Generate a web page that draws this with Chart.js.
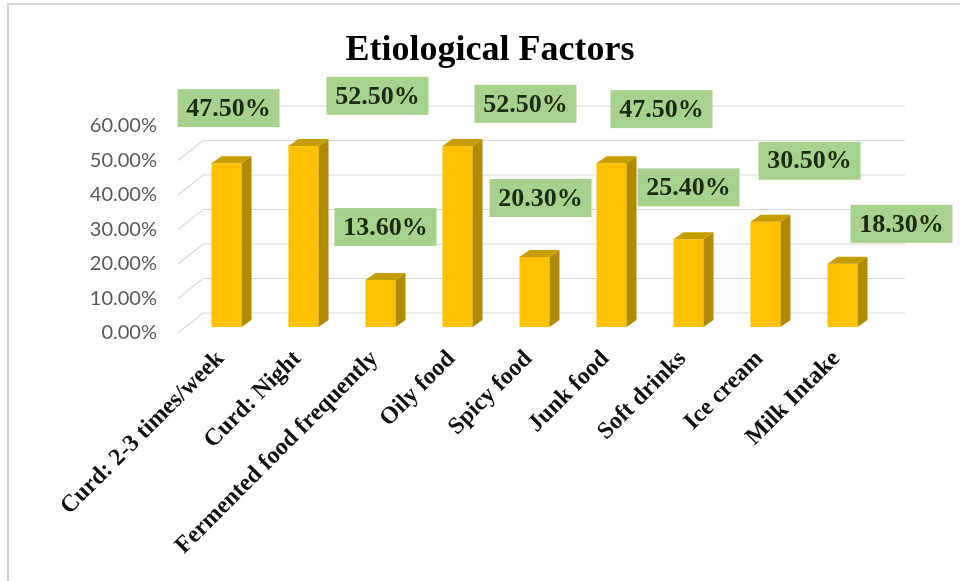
<!DOCTYPE html>
<html>
<head>
<meta charset="utf-8">
<script src="https://cdn.jsdelivr.net/npm/chart.js@4.4.1/dist/chart.umd.min.js"></script>
<style>
  html, body { margin: 0; padding: 0; background: #fff; overflow: hidden; }
  #frame {
    position: absolute; left: 7px; top: 3px; width: 1000px; height: 700px;
    border: 2px solid #d6d6d6; box-sizing: border-box;
  }
  #factors { position: absolute; left: 0; top: 0; }
</style>
</head>
<body>
<div id="frame"></div>
<canvas id="factors" width="960" height="581"></canvas>
<script>
// etiological factors, share of respondents (%)
const factors = [
  "Curd: 2-3 times/week",
  "Curd: Night",
  "Fermented food frequently",
  "Oily food",
  "Spicy food",
  "Junk food",
  "Soft drinks",
  "Ice cream",
  "Milk Intake",
];
const percents = [47.5, 52.5, 13.6, 52.5, 20.3, 47.5, 25.4, 30.5, 18.3];
const yTicks = [0, 10, 20, 30, 40, 50, 60];

// where each green value box sits, relative to the top centre of its bar
const labelShift = [
  [2, -55], [74, -50], [5, -53], [68, -42], [6, -59],
  [50, -54], [0, -52], [44, -61], [59, -40],
];

const SERIF = "'Liberation Serif', 'Times New Roman', serif";
const DEPTH_X = 10, DEPTH_Y = 7; // bar extrusion
const WALL_X = 25, WALL_Y = 20;  // floor depth for the side gridlines

const bars3d = {
  id: "bars3d",
  beforeDatasetsDraw(chart) {
    const { ctx } = chart;
    const y = chart.scales.y;
    const left = chart.chartArea.left - 10;
    ctx.save();
    ctx.strokeStyle = "#d9d9d9";
    ctx.lineWidth = 1.2;
    yTicks.forEach(v => {
      const front = y.getPixelForValue(v) + 6;
      const back = front - WALL_Y;
      ctx.beginPath();
      ctx.moveTo(left, front);
      ctx.lineTo(left + WALL_X, back);
      ctx.lineTo(905, back);
      ctx.stroke();
    });
    ctx.restore();
  },
  afterDatasetsDraw(chart) {
    const { ctx } = chart;
    const meta = chart.getDatasetMeta(0);
    ctx.save();
    meta.data.forEach((bar, i) => {
      const l = bar.x - bar.width / 2, r = bar.x + bar.width / 2;
      const t = bar.y, b = bar.base;
      // side face
      ctx.fillStyle = "#B08A00";
      ctx.beginPath();
      ctx.moveTo(r, t);
      ctx.lineTo(r + DEPTH_X, t - DEPTH_Y);
      ctx.lineTo(r + DEPTH_X, b - DEPTH_Y);
      ctx.lineTo(r, b);
      ctx.closePath();
      ctx.fill();
      // top face
      ctx.fillStyle = "#C79E00";
      ctx.beginPath();
      ctx.moveTo(l, t);
      ctx.lineTo(l + DEPTH_X, t - DEPTH_Y);
      ctx.lineTo(r + DEPTH_X, t - DEPTH_Y);
      ctx.lineTo(r, t);
      ctx.closePath();
      ctx.fill();
    });

    // value boxes
    ctx.font = "bold 26px " + SERIF;
    ctx.textAlign = "center";
    ctx.textBaseline = "middle";
    meta.data.forEach((bar, i) => {
      const cx = bar.x + labelShift[i][0];
      const cy = bar.y + labelShift[i][1];
      ctx.fillStyle = "#A9D18E";
      ctx.fillRect(cx - 51, cy - 19, 102, 38);
      ctx.fillStyle = "#1c2a16";
      ctx.fillText(percents[i].toFixed(2) + "%", cx, cy + 1);
    });

    // heading
    ctx.font = "bold 36px " + SERIF;
    ctx.fillStyle = "#000";
    ctx.textBaseline = "alphabetic";
    ctx.fillText("Etiological Factors", 490, 60);
    ctx.restore();
  },
};

new Chart(document.getElementById("factors"), {
  type: "bar",
  data: {
    labels: factors,
    datasets: [{
      data: percents,
      backgroundColor: "#FFC000",
      borderWidth: 0,
      barPercentage: 0.39,
      categoryPercentage: 1.0,
    }],
  },
  options: {
    responsive: false,
    animation: false,
    devicePixelRatio: 1,
    layout: { padding: { left: 0, right: 79, top: 120, bottom: 0 } },
    plugins: {
      legend: { display: false },
      tooltip: { enabled: false },
      title: { display: false },
    },
    scales: {
      x: {
        grid: { display: false, drawTicks: false },
        border: { display: false },
        afterFit: s => { s.height = 254; },
        ticks: {
          autoSkip: false,
          minRotation: 45,
          maxRotation: 45,
          padding: 18,
          labelOffset: -6,
          color: "#111",
          font: { family: SERIF, size: 24, weight: "bold" },
        },
      },
      y: {
        min: 0,
        max: 60,
        grid: { display: false, drawTicks: false },
        border: { display: false },
        afterFit: s => { s.width = 188; },
        afterBuildTicks: s => { s.ticks = yTicks.map(v => ({ value: v })); },
        ticks: {
          padding: 31,
          labelOffset: 6,
          color: "#595959",
          font: { family: "Lato, 'Open Sans', sans-serif", size: 20 },
          callback: v => v.toFixed(2) + "%",
        },
      },
    },
  },
  plugins: [bars3d],
});
</script>
</body>
</html>
